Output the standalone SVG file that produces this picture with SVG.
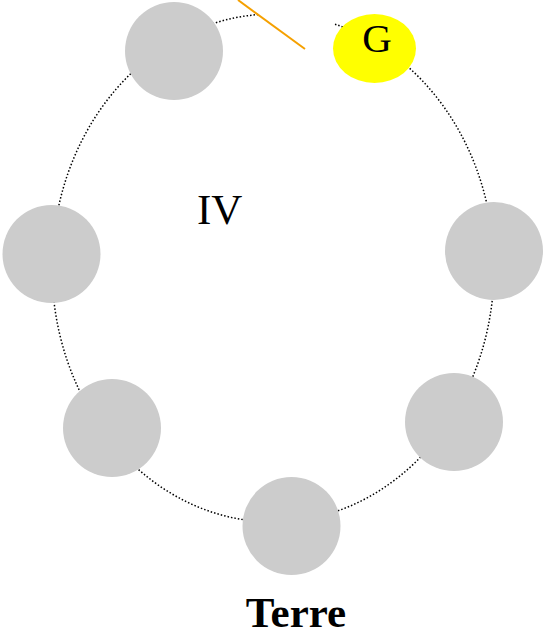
<svg xmlns="http://www.w3.org/2000/svg" width="546" height="635" viewBox="0 0 546 635">
<style>
.planet{fill:#cccccc;stroke:none}
.orbit{fill:none;stroke:#000;stroke-width:1.5;stroke-dasharray:1.5 2}
.lbl{font-family:"Liberation Serif","Times New Roman",serif;fill:#000}
</style>
<rect width="546" height="635" fill="#fff"/>
<g id="connectors">
<path class="orbit" d="M 335 24.2 A 221 254 0 1 1 258 14.6"/>
<line x1="238" y1="0" x2="305" y2="49" stroke="#f5a000" stroke-width="2"/>
</g>
<g id="n1"><circle class="planet" cx="174" cy="51" r="49"/></g>
<g id="n2"><circle class="planet" cx="51.5" cy="254" r="49"/></g>
<g id="n3"><circle class="planet" cx="112" cy="428" r="49"/></g>
<g id="n4"><circle class="planet" cx="291.5" cy="526" r="49"/></g>
<g id="n5"><circle class="planet" cx="454" cy="422" r="49"/></g>
<g id="n6"><circle class="planet" cx="494" cy="251" r="49"/></g>
<g id="g"><ellipse cx="374.5" cy="48.5" rx="41.5" ry="34.5" fill="#ffff00"/><text class="lbl" x="377" y="52" font-size="41" text-anchor="middle">G</text></g>
<g id="iv"><text class="lbl" x="197" y="224" font-size="43">IV</text></g>
<g id="terre"><text class="lbl" x="296" y="627" font-size="43" font-weight="bold" text-anchor="middle">Terre</text></g>
</svg>
